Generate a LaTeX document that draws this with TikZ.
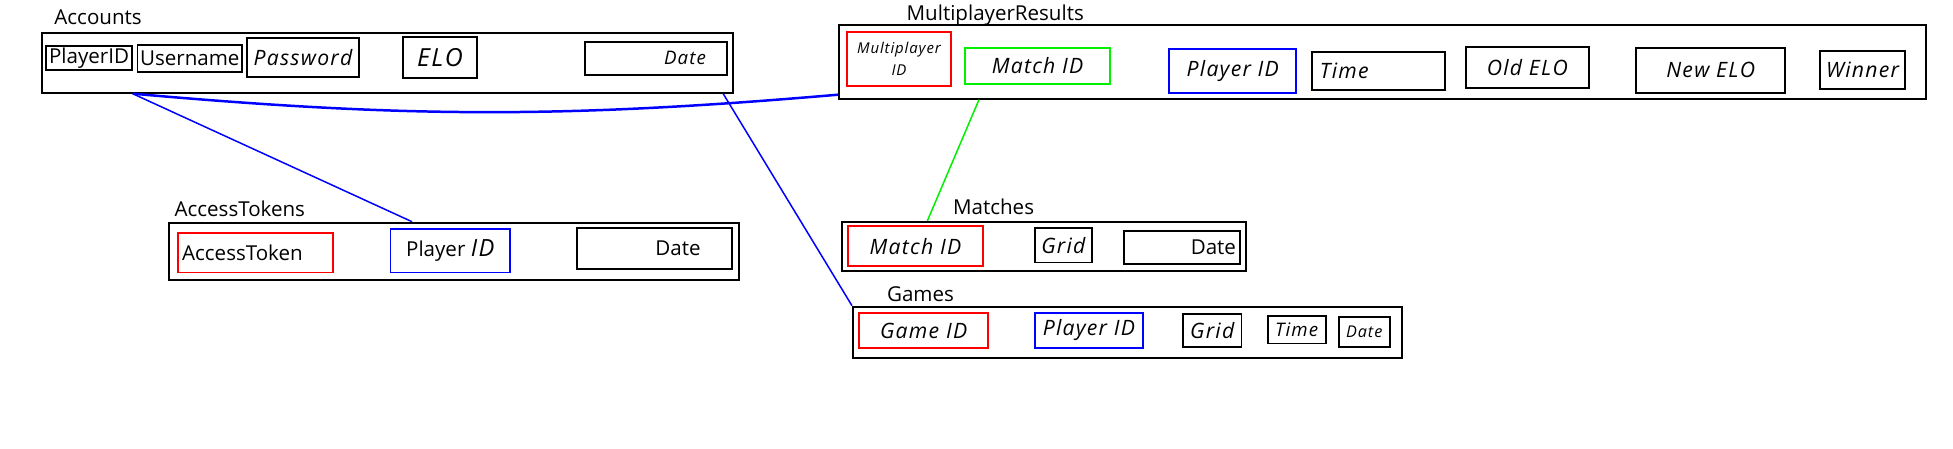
\documentclass[tikz,border=0pt]{standalone}
\usepackage{fontspec}
\setmainfont{Open Sans}
\newfontfamily\handfont{Open Sans}[LetterSpace=6]
\usetikzlibrary{calc}
\definecolor{erdRed}{HTML}{FF0000}
\definecolor{erdBlue}{HTML}{0000FF}
\definecolor{erdGreen}{HTML}{00F000}
\tikzset{
  erd table/.style={draw=black, line width=1.6pt, inner sep=0pt, anchor=north west},
  erd field/.style={draw=black, line width=1.5pt, inner sep=0pt, anchor=north west, font=\fontsize{16.5}{19}\selectfont},
  erd key/.style={erd field, draw=erdRed},
  erd player/.style={erd field, draw=erdBlue},
  erd match/.style={erd field, draw=erdGreen},
  erd hand/.style={font=\handfont\itshape\fontsize{17}{20}\selectfont},
  erd name/.style={anchor=base west, inner sep=0pt, font=\fontsize{16.5}{19}\selectfont},
  erd link/.style={draw=erdBlue, line width=1.2pt},
}

\begin{document}
\begin{tikzpicture}[x=1pt, y=-1pt]
  \useasboundingbox (0,0) rectangle (1568,360);

  % Accounts
  \node[erd name] (accountsName) at (43.5,20) {Accounts};
  \node[erd table, minimum width=555pt, minimum height=48.2pt] (accounts) at (33,25.4) {};
  \node[erd field, minimum width=68.5pt, minimum height=19.5pt] (acPlayerID) at (36.5,36) {PlayerID};
  \node[erd field, minimum width=84pt, minimum height=21.4pt] (acUsername) at (109.6,35.6) {Username};
  \node[erd field, erd hand, minimum width=90pt, minimum height=30.8pt] (acPassword) at (197.5,30) {Password};
  \node[erd field, erd hand, minimum width=59pt, minimum height=33.3pt,
        font=\handfont\itshape\fontsize{20}{22}\selectfont] (acELO) at (323,28.7) {ELO};
  \node[erd field, erd hand, minimum width=113.6pt, minimum height=26.7pt, text width=80.4pt, align=right,
        font=\handfont\itshape\fontsize{15}{18}\selectfont] (acDate) at (469,32.7) {Date};

  % MultiplayerResults
  \node[erd name] (multiResultsName) at (727.7,16.6) {MultiplayerResults};
  \node[erd table, minimum width=872.6pt, minimum height=58.9pt] (multiResults) at (673,19.5) {};
  \node[erd key, erd hand, minimum width=84pt, minimum height=43.7pt, align=center,
        font=\handfont\itshape\fontsize{12}{17}\selectfont] (mpMultiplayerID) at (679,24.6) {Multiplayer\\ID};
  \node[erd match, erd hand, minimum width=116.6pt, minimum height=28.9pt] (mpMatchID) at (774,37.5) {Match ID};
  \node[erd player, erd hand, minimum width=102pt, minimum height=35.6pt] (mpPlayerID) at (938,38.3) {Player ID};
  \node[erd field, erd hand, minimum width=107pt, minimum height=31pt, text width=94.2pt, align=left] (mpTime) at (1052.6,40.7) {Time};
  \node[erd field, erd hand, minimum width=99pt, minimum height=32.9pt] (mpOldELO) at (1176,36.7) {Old ELO};
  \node[erd field, erd hand, minimum width=119.4pt, minimum height=36.1pt] (mpNewELO) at (1313,37.5) {New ELO};
  \node[erd field, erd hand, minimum width=68.2pt, minimum height=30.4pt] (mpWinner) at (1460.5,40) {Winner};

  % AccessTokens
  \node[erd name] (accessTokensName) at (140,173.5) {AccessTokens};
  \node[erd table, minimum width=457.3pt, minimum height=46.3pt] (accessTokens) at (135.2,178) {};
  \node[erd key, minimum width=124.5pt, minimum height=32pt, text width=117.5pt, align=left] (atToken) at (142,186) {AccessToken};
  \node[erd player, minimum width=95.9pt, minimum height=35.2pt] (atPlayerID) at (312.8,182.8) {Player {\handfont\itshape\fontsize{19}{20}\selectfont ID}};
  \node[erd field, minimum width=124.4pt, minimum height=33.4pt, text width=73.4pt, align=right] (atDate) at (462.8,182) {Date};

  % Matches
  \node[erd name] (matchesName) at (765,172.5) {Matches};
  \node[erd table, minimum width=324.6pt, minimum height=39.4pt] (matches) at (675,177.4) {};
  \node[erd key, erd hand, minimum width=108.9pt, minimum height=31.8pt] (maMatchID) at (679.8,181) {Match ID};
  \node[erd field, erd hand, minimum width=46pt, minimum height=28pt] (maGrid) at (830,182) {Grid};
  \node[erd field, minimum width=92.9pt, minimum height=26pt, text width=86.9pt, align=right] (maDate) at (901.7,185) {Date};

  % Games
  \node[erd name] (gamesName) at (712,242) {Games};
  \node[erd table, minimum width=440.5pt, minimum height=41.6pt] (games) at (684,245.4) {};
  \node[erd key, erd hand, minimum width=103.6pt, minimum height=27.5pt] (gaGameID) at (689,250.8) {Game ID};
  \node[erd player, erd hand, minimum width=87pt, minimum height=27.5pt] (gaPlayerID) at (830,250.8) {Player ID};
  \node[erd field, erd hand, minimum width=47pt, minimum height=26.2pt] (gaGrid) at (949,251.6) {Grid};
  \node[erd field, erd hand, minimum width=46.5pt, minimum height=22pt,
        font=\handfont\itshape\fontsize{15}{18}\selectfont] (gaTime) at (1017,253) {Time};
  \node[erd field, erd hand, minimum width=41pt, minimum height=23.6pt,
        font=\handfont\itshape\fontsize{13}{15}\selectfont] (gaDate) at (1074,254) {Date};

  % links between the tables
  \draw[erd link] (acPlayerID.south east |- accounts.south) -- ($(atPlayerID.north west |- accessTokens.north)+(18,0)$);
  \draw[erd link, line width=2pt] (acPlayerID.south east |- accounts.south) to[bend right=5] ($(multiResults.south west)+(0,-4)$);
  \draw[erd link] ($(accounts.south east)+(-9,0)$) -- (games.north west);
  \draw[erd link, draw=erdGreen] ($(mpMatchID.south west |- multiResults.south)+(12,0)$) -- ($(matches.north west)+(69.5,0)$);
\end{tikzpicture}
\end{document}
